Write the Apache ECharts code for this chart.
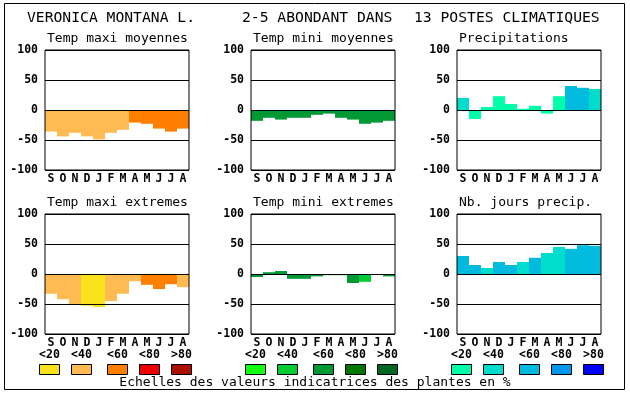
<!DOCTYPE html>
<html><head><meta charset="utf-8">
<script src="https://cdn.jsdelivr.net/npm/echarts@6/dist/echarts.min.js"></script>
<style>html,body{margin:0;padding:0;background:#fff}#c{width:630px;height:394px}</style>
</head><body><div id="c"></div>
<script>
// ---- Data ----
const months = ['S','O','N','D','J','F','M','A','M','J','J','A'];
const mainTitle = ['VERONICA MONTANA L.', '2-5 ABONDANT DANS', '13 POSTES CLIMATIQUES'];
const panelTitles = ['Temp maxi moyennes','Temp mini moyennes','Precipitations',
                     'Temp maxi extremes','Temp mini extremes','Nb. jours precip.'];
const scaleLabels = ['<20','<40','<60','<80','>80'];
const footer = 'Echelles des valeurs indicatrices des plantes en %';

const orangePalette = ['#fae31c','#ffbb52','#ff8000','#ee0000','#aa1100'];
const greenPalette  = ['#11ff11','#00cc33','#009933','#007700','#006622'];
const bluePalette   = ['#00ffaa','#00ddcc','#00bbdd','#0099ee','#0000ff'];

const tmaxMoyVals = [-36,-44,-38,-44,-49,-38,-33,-21,-23,-31,-36,-31];
const tmaxMoyLvl  = [1,1,1,1,1,1,1,2,2,2,2,2];
const tminMoyVals = [-18,-13,-16,-13,-13,-8,-6,-13,-16,-23,-21,-18];
const tminMoyLvl  = [2,2,2,2,2,2,2,2,2,2,2,2];
const precVals    = [20,-15,5,23,10,2,7,-6,23,40,37,35];
const precLvl     = [1,0,0,0,0,0,0,0,0,2,2,1];
const tmaxExtVals = [-33,-42,-50,-53,-55,-45,-33,-12,-18,-25,-17,-22];
const tmaxExtLvl  = [1,1,1,0,0,1,1,1,2,2,2,1];
const tminExtVals = [-5,3,5,-8,-8,-4,-2,-2,-15,-13,0,-4];
const tminExtLvl  = [2,2,2,2,2,2,2,2,2,1,2,2];
const nbJoursVals = [30,15,10,20,15,20,27,35,45,42,48,47];
const nbJoursLvl  = [2,2,1,2,2,1,2,1,1,2,2,2];

// ---- Layout ----
const gLeft = [45,251,457], gTop = [50,214], gW = 144, gH = 120;
const panels = [
  {vals:tmaxMoyVals, lvl:tmaxMoyLvl, pal:orangePalette},
  {vals:tminMoyVals, lvl:tminMoyLvl, pal:greenPalette},
  {vals:precVals,    lvl:precLvl,    pal:bluePalette},
  {vals:tmaxExtVals, lvl:tmaxExtLvl, pal:orangePalette},
  {vals:tminExtVals, lvl:tminExtLvl, pal:greenPalette},
  {vals:nbJoursVals, lvl:nbJoursLvl, pal:bluePalette}
];
const mono = '"DejaVu Sans Mono", "Liberation Mono", monospace';

const grid=[], xAxis=[], yAxis=[], series=[], graphic=[];
panels.forEach((p,i)=>{
  const col=i%3, row=Math.floor(i/3);
  grid.push({left:gLeft[col], top:gTop[row], width:gW, height:gH, show:true,
             borderColor:'#000', borderWidth:1, backgroundColor:'transparent', z:2});
  xAxis.push({type:'category', gridIndex:i, data:months, boundaryGap:true, z:2,
    axisLine:{show:false}, axisTick:{show:false},
    axisLabel:{interval:0, margin:3, color:'#000', fontFamily:mono, fontWeight:'bold', fontSize:11.5}});
  yAxis.push({type:'value', gridIndex:i, min:-100, max:100, interval:50, z:2,
    axisLine:{show:false}, axisTick:{show:false},
    splitLine:{show:true, lineStyle:{color:'#000', width:1}},
    axisLabel:{margin:7, color:'#000', fontFamily:mono, fontWeight:'bold', fontSize:11.5}});
  series.push({type:'bar', xAxisIndex:i, yAxisIndex:i, barCategoryGap:0, barGap:0,
    animation:false, z:1,
    data:p.vals.map((v,k)=>({value:v, itemStyle:{color:p.pal[p.lvl[k]]}}))});
  graphic.push({type:'text', left:gLeft[col]+2, top:gTop[row]-18,
    style:{text:panelTitles[i], font:'13px '+mono, fill:'#000'}});
});

// outer frame
graphic.push({type:'rect', shape:{x:4.5,y:3.5,width:620,height:386}, style:{fill:null, stroke:'#000', lineWidth:1}, z:-10});
// main title
const tX=[27,242,414];
mainTitle.forEach((t,k)=>graphic.push({type:'text', left:tX[k], top:11,
   style:{text:t, font:'14.7px '+mono, fill:'#000'}}));
// legend swatches and labels
const palettes=[orangePalette, greenPalette, bluePalette];
const swOff=[-6,26,62,94,126];
palettes.forEach((pal,c)=>{
  pal.forEach((color,k)=>{
    const x=gLeft[c]+swOff[k];
    graphic.push({type:'rect', shape:{x:x+0.5,y:364.5,width:20,height:10},
      style:{fill:color, stroke:'#000', lineWidth:1}});
    graphic.push({type:'text', x:x+10.5, y:355,
      style:{text:scaleLabels[k], font:'bold 11.5px '+mono, fill:'#000', textAlign:'center', textVerticalAlign:'middle'}});
  });
});
graphic.push({type:'text', x:315, y:383,
  style:{text:footer, font:'13px '+mono, fill:'#000', textAlign:'center', textVerticalAlign:'middle'}});

const chart = echarts.init(document.getElementById('c'), null, {renderer:'canvas'});
chart.setOption({animation:false, backgroundColor:'#fff', grid, xAxis, yAxis, series, graphic});
</script></body></html>
